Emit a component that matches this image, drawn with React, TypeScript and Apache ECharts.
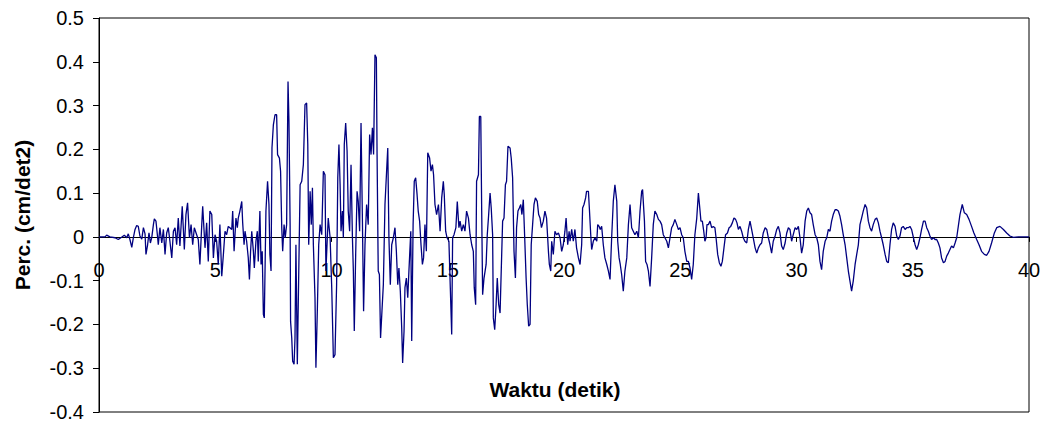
import React, { useEffect, useRef } from "react";
import * as echarts from "echarts";

// Ground acceleration record: [time (s), acceleration (cm/det2)]
const seg0to5: number[][] = [
  [0, 0], [0.26, 0], [0.33, 0.004], [0.47, 0], [0.69, -0.002], [0.83, -0.006], [0.97, -0.001], [1.09, 0.004],
  [1.19, -0.002], [1.26, 0.007], [1.33, -0.006], [1.41, -0.024], [1.48, -0.001], [1.55, 0.017], [1.62, 0.026],
  [1.69, 0.024], [1.76, 0.002], [1.84, -0.005], [1.91, 0.021], [1.98, 0.007], [2.02, -0.04], [2.09, -0.018],
  [2.15, 0.009], [2.21, -0.014], [2.27, -0.001], [2.34, 0.028], [2.38, 0.041], [2.45, 0.036], [2.51, 0.005],
  [2.55, -0.018], [2.62, 0.021], [2.7, -0.014], [2.77, 0.017], [2.84, -0.04], [2.91, 0.009], [2.98, 0.021],
  [3.05, -0.01], [3.13, -0.048], [3.2, 0.013], [3.27, 0.021], [3.34, -0.018], [3.41, 0.043], [3.48, -0.021],
  [3.58, 0.07], [3.67, -0.029], [3.74, 0.051], [3.81, 0.078], [3.89, -0.002], [3.96, 0.028], [4.03, -0.018],
  [4.1, 0.021], [4.2, 0.005], [4.27, -0.006], [4.34, -0.063], [4.42, 0.028], [4.46, 0.07], [4.56, -0.025],
  [4.63, 0.032], [4.7, -0.056], [4.77, 0.059], [4.85, 0.051], [4.92, -0.048], [4.99, 0.005], [5.06, -0.01],
  [5.13, -0.063], [5.2, 0.028],
];

const seg5to10: number[][] = [
  [5.28, -0.09], [5.35, -0.04], [5.42, 0.013], [5.49, 0.005], [5.56, 0.024], [5.63, 0.021], [5.71, 0.017],
  [5.75, 0.059], [5.81, -0.033], [5.89, 0.043], [5.95, 0.021], [5.99, 0.043], [6.06, 0.059], [6.14, 0.081],
  [6.18, 0.032], [6.24, -0.018], [6.28, 0.013], [6.35, -0.01], [6.42, -0.048], [6.47, -0.097], [6.52, -0.033],
  [6.57, 0.013], [6.64, -0.033], [6.68, -0.071], [6.75, -0.01], [6.81, 0.013], [6.85, -0.056], [6.92, 0.059],
  [6.97, -0.063], [7.02, -0.033], [7.07, -0.177], [7.11, -0.185], [7.18, 0.059], [7.25, 0.127], [7.31, 0.074],
  [7.35, -0.04], [7.4, -0.078], [7.44, 0.203], [7.5, 0.256], [7.57, 0.279], [7.64, 0.279], [7.68, 0.188],
  [7.76, 0.18], [7.81, 0.15], [7.86, 0.021], [7.9, -0.033], [7.96, 0.028], [8.01, -0.002], [8.07, 0.028],
  [8.13, 0.355], [8.17, 0.264], [8.22, 0.028], [8.24, -0.193], [8.29, -0.231], [8.33, -0.284], [8.39, -0.291],
  [8.43, -0.231], [8.47, -0.018], [8.53, -0.291], [8.57, -0.154], [8.65, 0.119], [8.72, 0.127], [8.79, 0.165],
  [8.86, 0.302], [8.93, 0.306], [8.98, 0.211], [9.02, -0.018], [9.08, 0.104], [9.13, 0.028], [9.18, 0.112],
  [9.22, -0.018], [9.29, -0.139], [9.33, -0.299], [9.39, -0.17], [9.45, -0.018], [9.51, 0.028], [9.58, 0.005],
  [9.65, 0.15], [9.72, 0.142], [9.76, -0.078], [9.82, -0.002], [9.86, 0.043], [9.94, -0.002], [10.01, -0.116],
  [10.08, -0.276],
];

const seg10to15: number[][] = [
  [10.15, -0.269], [10.22, -0.109], [10.27, 0.135], [10.32, 0.211], [10.37, 0.119], [10.41, 0.013], [10.47, 0.059],
  [10.51, -0.002], [10.55, 0.211], [10.61, 0.26], [10.67, 0.196], [10.72, 0.059], [10.78, 0.013], [10.84, 0.165],
  [10.9, -0.002], [10.94, -0.078], [10.98, -0.215], [11.04, -0.04], [11.1, 0.104], [11.15, 0.081], [11.21, 0.013],
  [11.27, 0.26], [11.33, 0.036], [11.38, -0.17], [11.44, -0.018], [11.51, 0.074], [11.58, 0.028], [11.64, 0.234],
  [11.7, 0.188], [11.76, 0.249], [11.81, 0.188], [11.87, 0.416], [11.93, 0.409], [11.96, 0.188], [12.01, -0.078],
  [12.06, -0.086], [12.11, -0.231], [12.17, -0.17], [12.23, -0.109], [12.3, 0.074], [12.37, 0.15], [12.42, 0.203],
  [12.47, -0.002], [12.53, -0.109], [12.59, -0.018], [12.66, -0.002], [12.73, 0.021], [12.79, -0.033],
  [12.85, -0.109], [12.9, -0.071], [12.96, -0.124], [13.02, -0.208], [13.06, -0.288], [13.12, -0.215],
  [13.16, -0.116], [13.22, -0.094], [13.28, -0.139], [13.33, -0.078], [13.41, 0.013], [13.45, -0.238],
  [13.51, 0.028], [13.56, 0.127], [13.62, 0.135], [13.68, 0.097], [13.73, 0.059], [13.79, 0.036], [13.85, -0.018],
  [13.91, -0.063], [13.96, -0.048], [14.02, 0.028], [14.08, -0.033], [14.14, 0.192], [14.22, 0.18], [14.28, 0.15],
  [14.34, 0.165], [14.39, 0.142], [14.45, 0.074], [14.52, 0.051], [14.6, 0.074], [14.67, 0.013], [14.74, 0.089],
  [14.81, 0.127], [14.85, 0.097], [14.91, 0.013], [14.97, -0.002], [15.05, -0.01], [15.11, -0.116], [15.17, -0.223],
];

const seg15to20: number[][] = [
  [15.21, -0.002], [15.27, 0.005], [15.35, 0.021], [15.41, 0.081], [15.48, 0.021], [15.53, 0.036], [15.6, 0.013],
  [15.67, 0.028], [15.74, 0.013], [15.81, 0.059], [15.89, 0.043], [15.96, 0.005], [16.03, -0.018], [16.1, -0.033],
  [16.14, -0.116], [16.2, -0.155], [16.24, 0.127], [16.32, 0.142], [16.36, 0.275], [16.42, 0.275], [16.46, 0.059],
  [16.5, -0.132], [16.56, -0.094], [16.65, -0.063], [16.7, 0.005], [16.76, 0.051], [16.82, 0.1], [16.87, 0.066],
  [16.93, 0.005], [16.96, -0.185], [17.02, -0.212], [17.08, -0.154], [17.13, -0.094], [17.19, -0.154],
  [17.25, -0.174], [17.32, -0.04], [17.36, 0.036], [17.42, 0.043], [17.48, 0.119], [17.53, 0.127], [17.59, 0.207],
  [17.68, 0.203], [17.73, 0.18], [17.79, 0.135], [17.85, -0.033], [17.91, -0.094], [17.96, 0.021], [18.02, 0.059],
  [18.08, 0.066], [18.14, 0.074], [18.19, 0.051], [18.25, 0.085], [18.31, -0.002], [18.37, -0.094], [18.42, -0.154],
  [18.48, -0.204], [18.54, -0.2], [18.59, -0.018], [18.65, 0.028], [18.71, 0.074], [18.77, 0.089], [18.85, 0.081],
  [18.91, 0.051], [18.97, 0.043], [19.03, 0.021], [19.11, 0.036], [19.18, 0.059], [19.25, 0.043], [19.33, -0.033],
  [19.37, -0.063], [19.43, -0.078], [19.47, -0.01], [19.54, -0.04], [19.61, 0.013], [19.68, 0.005], [19.76, 0.009],
  [19.83, -0.002], [19.9, -0.033], [19.97, -0.018], [20.04, 0.013], [20.09, 0.043],
];

const seg20to25: number[][] = [
  [20.16, -0.018], [20.22, 0.013], [20.26, -0.01], [20.33, 0.017], [20.4, -0.01], [20.47, 0.017], [20.54, -0.025],
  [20.62, -0.048], [20.69, -0.063], [20.76, -0.018], [20.8, 0.066], [20.86, 0.074], [20.93, 0.089], [20.97, 0.104],
  [21.05, 0.104], [21.09, 0.066], [21.15, 0.005], [21.19, -0.029], [21.26, -0.01], [21.33, -0.002], [21.41, -0.01],
  [21.45, 0.028], [21.51, 0.024], [21.56, 0.017], [21.62, 0.024], [21.69, -0.018], [21.76, -0.048], [21.84, -0.063],
  [21.91, -0.078], [21.98, -0.097], [22.05, -0.002], [22.12, 0.081], [22.19, 0.119], [22.27, 0.081], [22.31, -0.01],
  [22.37, -0.048], [22.42, -0.063], [22.48, -0.086], [22.55, -0.124], [22.62, -0.078], [22.7, -0.048],
  [22.77, 0.028], [22.84, 0.074], [22.91, 0.021], [22.98, 0.013], [23.05, 0.005], [23.13, 0.013], [23.2, -0.002],
  [23.27, 0.059], [23.34, 0.104], [23.38, 0.108], [23.46, 0.036], [23.51, -0.056], [23.57, -0.063], [23.63, -0.078],
  [23.7, -0.113], [23.77, -0.048], [23.84, 0.028], [23.91, 0.059], [23.99, 0.051], [24.06, 0.04], [24.13, 0.036],
  [24.2, 0.028], [24.27, 0.005], [24.34, -0.002], [24.42, -0.01], [24.49, -0.025], [24.56, -0.002], [24.63, 0.021],
  [24.7, 0.028], [24.77, 0.04], [24.85, 0.028], [24.92, 0.017], [24.99, 0.021], [25.06, 0.005], [25.13, -0.002],
  [25.2, -0.033], [25.28, -0.056], [25.35, -0.056], [25.42, -0.071], [25.49, -0.097], [25.56, -0.063],
  [25.63, 0.005], [25.71, 0.043],
];

const seg25to31: number[][] = [
  [25.78, 0.1], [25.84, 0.066], [25.89, 0.036], [25.95, 0.036], [26.01, 0.013], [26.06, -0.01], [26.11, -0.002],
  [26.15, 0.028], [26.21, 0.028], [26.28, 0.036], [26.35, 0.021], [26.42, 0.024], [26.49, 0.021], [26.54, -0.002],
  [26.61, -0.04], [26.68, -0.059], [26.75, -0.067], [26.81, -0.056], [26.88, -0.025], [26.95, 0.005], [27.03, 0.009],
  [27.1, 0.021], [27.17, 0.024], [27.24, 0.032], [27.31, 0.043], [27.38, 0.04], [27.44, 0.032], [27.5, 0.017],
  [27.57, 0.024], [27.64, 0.013], [27.71, -0.002], [27.78, -0.01], [27.86, -0.014], [27.93, 0.017], [28.0, 0.036],
  [28.07, 0.017], [28.14, -0.002], [28.22, -0.025], [28.29, -0.037], [28.36, -0.025], [28.43, -0.018],
  [28.5, -0.014], [28.57, 0.009], [28.65, 0.021], [28.72, 0.017], [28.79, -0.002], [28.86, -0.018], [28.93, -0.037],
  [29.0, -0.01], [29.08, 0.002], [29.15, 0.017], [29.22, 0.024], [29.29, 0.009], [29.36, -0.021], [29.43, -0.029],
  [29.51, -0.014], [29.58, 0.009], [29.65, 0.021], [29.72, 0.017], [29.79, -0.01], [29.86, 0.005], [29.94, 0.021],
  [30.01, 0.017], [30.08, 0.024], [30.15, -0.002], [30.22, -0.037], [30.29, -0.018], [30.37, 0.036], [30.44, 0.059],
  [30.51, 0.066], [30.58, 0.055], [30.65, 0.051], [30.72, 0.028], [30.8, 0.005], [30.87, -0.002], [30.94, -0.018],
  [31.01, -0.056], [31.08, -0.075], [31.15, -0.033], [31.23, -0.01], [31.3, -0.002], [31.37, 0.017],
];

const seg31to37: number[][] = [
  [31.44, 0.013], [31.51, 0.036], [31.58, 0.051], [31.66, 0.062], [31.73, 0.062], [31.8, 0.059], [31.87, 0.047],
  [31.94, 0.028], [32.01, 0.005], [32.09, -0.018], [32.16, -0.048], [32.23, -0.078], [32.3, -0.101], [32.37, -0.124],
  [32.44, -0.101], [32.52, -0.063], [32.59, -0.04], [32.66, -0.018], [32.73, 0.028], [32.8, 0.043], [32.87, 0.059],
  [32.95, 0.074], [33.02, 0.066], [33.09, 0.036], [33.16, 0.021], [33.23, 0.013], [33.3, 0.028], [33.38, 0.04],
  [33.45, 0.043], [33.52, 0.032], [33.59, 0.013], [33.66, -0.002], [33.73, -0.018], [33.81, -0.04], [33.88, -0.056],
  [33.95, -0.059], [34.02, -0.018], [34.09, 0.017], [34.16, 0.032], [34.24, 0.024], [34.31, 0.002], [34.38, -0.006],
  [34.45, 0.002], [34.52, 0.021], [34.59, 0.024], [34.67, 0.017], [34.74, 0.021], [34.81, 0.021], [34.88, 0.024],
  [34.95, 0.017], [35.03, -0.002], [35.1, -0.018], [35.17, -0.029], [35.24, -0.018], [35.31, -0.002], [35.38, 0.017],
  [35.46, 0.036], [35.53, 0.036], [35.6, 0.021], [35.67, 0.013], [35.74, 0.002], [35.81, -0.006], [35.89, -0.002],
  [35.96, -0.006], [36.03, -0.006], [36.1, -0.014], [36.17, -0.025], [36.24, -0.048], [36.32, -0.059],
  [36.39, -0.056], [36.46, -0.044], [36.53, -0.037], [36.6, -0.029], [36.67, -0.021], [36.75, -0.025],
  [36.82, -0.014], [36.89, -0.002],
];

const seg37to40: number[][] = [
  [37.03, 0.051], [37.13, 0.074], [37.22, 0.055], [37.32, 0.051], [37.42, 0.04], [37.53, 0.024], [37.63, 0.009],
  [37.75, -0.006], [37.85, -0.018], [37.96, -0.033], [38.08, -0.04], [38.18, -0.042], [38.28, -0.033],
  [38.39, -0.014], [38.51, 0.009], [38.61, 0.021], [38.75, 0.024], [38.9, 0.017], [39.04, 0.009], [39.18, 0.002],
  [39.33, -0.001], [39.54, 0], [40, 0],
];

const xTicks = { min: 0, max: 40, step: 5 };
const yTicks = { min: -0.4, max: 0.5, step: 0.1 };
const xTitle = "Waktu (detik)";
const yTitle = "Perc. (cm/det2)";

const FONT = 'Arial, "Liberation Sans", Helvetica, sans-serif';

export default function App() {
  const ref = useRef<HTMLDivElement>(null);

  useEffect(() => {
    if (!ref.current) return;
    const chart = echarts.init(ref.current, null, { renderer: "svg" });
    const data = [
      ...seg0to5, ...seg5to10, ...seg10to15, ...seg15to20,
      ...seg20to25, ...seg25to31, ...seg31to37, ...seg37to40,
    ];
    chart.setOption({
      animation: false,
      backgroundColor: "#ffffff",
      grid: {
        left: 99, right: 19, top: 18, bottom: 11,
        containLabel: false,
        outerBoundsMode: "none",
        show: true, borderColor: "#000", borderWidth: 1, backgroundColor: "transparent",
      },
      xAxis: {
        type: "value",
        min: xTicks.min, max: xTicks.max, interval: xTicks.step,
        axisLine: { show: true, onZero: true, lineStyle: { color: "#000", width: 1 } },
        axisTick: { show: true, length: 5, lineStyle: { color: "#000" } },
        axisLabel: { color: "#000", fontSize: 20, lineHeight: 16, fontFamily: FONT, margin: -150 },
        splitLine: { show: false },
      },
      yAxis: {
        type: "value",
        min: yTicks.min, max: yTicks.max, interval: yTicks.step,
        axisLine: { show: true, onZero: false, lineStyle: { color: "#000", width: 1 } },
        axisTick: { show: true, length: 6, lineStyle: { color: "#000" } },
        axisLabel: {
          color: "#000", fontSize: 20, lineHeight: 16, fontFamily: FONT, margin: 15,
          formatter: (v: number) => String(Math.round(v * 10) / 10),
        },
        splitLine: { show: false },
      },
      series: [
        {
          type: "line",
          data,
          showSymbol: false,
          symbol: "none",
          lineStyle: { color: "#000080", width: 1.3 },
        },
      ],
      graphic: [
        {
          type: "text",
          x: 555, y: 389,
          style: {
            text: xTitle, fill: "#000", fontSize: 21, fontWeight: "bold", fontFamily: FONT,
            textAlign: "center", textVerticalAlign: "middle",
          },
        },
        {
          type: "text",
          x: 22, y: 215, rotation: Math.PI / 2,
          style: {
            text: yTitle, fill: "#000", fontSize: 21, fontWeight: "bold", fontFamily: FONT,
            textAlign: "center", textVerticalAlign: "middle",
          },
        },
      ],
    });
    return () => chart.dispose();
  }, []);

  return (
    <div
      ref={ref}
      style={{ position: "fixed", left: 0, top: 0, width: 1048, height: 423, background: "#fff" }}
    />
  );
}
